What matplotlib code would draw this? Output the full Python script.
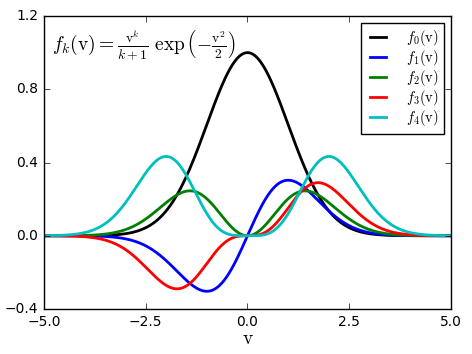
import numpy as np
import matplotlib
matplotlib.use("Agg")
import matplotlib.pyplot as plt

plt.style.use("classic")
plt.rcParams["mathtext.fontset"] = "cm"

# Orders k of the plotted functions f_k(v) = v^k/(k+1) exp(-v^2/2)
orders = [0, 1, 2, 3, 4]
colors = ["k", "b", "g", "r", "c"]
labels = [r"$f_{%d}(\mathrm{v})$" % k for k in orders]
v_range = [-5.0, 5.0]
y_range = [-0.4, 1.2]
xticks = [-5.0, -2.5, 0.0, 2.5, 5.0]
yticks = [-0.4, 0.0, 0.4, 0.8, 1.2]

fig = plt.figure(figsize=(4.72, 3.54), dpi=100, facecolor="white")
ax = fig.add_axes([0.0932, 0.1271, 0.8623, 0.8277])

v = np.linspace(v_range[0], v_range[1], 500)
for k, c, lab in zip(orders, colors, labels):
    ax.plot(v, v**k / (k + 1) * np.exp(-v**2 / 2), color=c, lw=2, label=lab)

ax.set_xlim(v_range)
ax.set_ylim(y_range)
ax.set_xticks(xticks)
ax.set_yticks(yticks)
ax.tick_params(labelsize=10)
ax.set_xlabel(r"$\mathrm{v}$", fontsize=14, labelpad=0)
ax.text(0.02, 0.955, r"$f_k(\mathrm{v}) = \frac{\mathrm{v}^k}{k+1}\ \exp\left(-\frac{\mathrm{v}^2}{2}\right)$",
        transform=ax.transAxes, fontsize=14, va="top", ha="left")
ax.legend(loc="upper right", fontsize=10.5, handlelength=1.7, labelspacing=0.0,
          borderpad=0.35, handletextpad=1.05)
fig.savefig("out.png", dpi=100, facecolor="white")
